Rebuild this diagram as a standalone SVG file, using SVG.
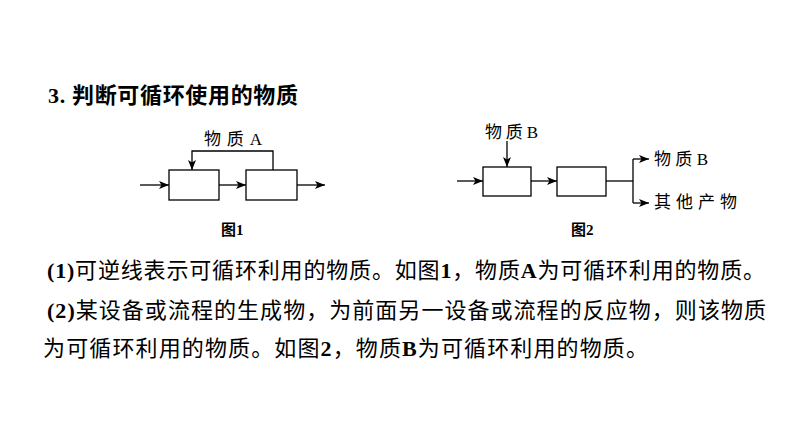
<svg xmlns="http://www.w3.org/2000/svg" width="794" height="447" viewBox="0 0 794 447">
<style>
.ln{stroke:#000;stroke-width:1.3;fill:none}
.bx{stroke:#000;stroke-width:1.3;fill:#fff}
.cjk{font-family:"Noto Sans CJK SC","Liberation Serif",sans-serif;fill:#000}
.lat{font-family:"Liberation Serif",serif;font-weight:bold}
.body{font-size:22px}
.lbl{font-size:17px}
.cap{font-size:15px;font-weight:bold}
</style>
<defs>
<marker id="ah" viewBox="0 0 10 8" refX="10" refY="4" markerWidth="10" markerHeight="8" markerUnits="userSpaceOnUse" orient="auto">
<path d="M0,0 L10,4 L0,8 L2.5,4 Z" fill="#000"/>
</marker>
</defs>
<rect width="794" height="447" fill="#fff"/>
<g id="title">
<text class="cjk" x="48" y="103" font-size="22" font-weight="bold" textLength="250" lengthAdjust="spacing"><tspan class="lat">3. </tspan>判断可循环使用的物质</text>
</g>
<g id="fig1">
<g id="f1-box1"><rect class="bx" x="169" y="170" width="50" height="30"/></g>
<g id="f1-box2"><rect class="bx" x="246" y="170" width="51" height="30"/></g>
<g id="f1-label"><text class="cjk lbl" x="204" y="145" textLength="58" lengthAdjust="spacing">物质<tspan font-family="Liberation Serif,serif">A</tspan></text></g>
<g id="f1-caption"><text class="cjk cap" x="221" y="235">图<tspan class="lat">1</tspan></text></g>
</g>
<g id="fig2">
<g id="f2-box1"><rect class="bx" x="483" y="167" width="48" height="29"/></g>
<g id="f2-box2"><rect class="bx" x="557" y="167" width="49" height="29"/></g>
<g id="f2-top"><text class="cjk lbl" x="485" y="138" textLength="53" lengthAdjust="spacing">物质<tspan font-family="Liberation Serif,serif">B</tspan></text></g>
<g id="f2-outB"><text class="cjk lbl" x="654" y="165" textLength="54" lengthAdjust="spacing">物质<tspan font-family="Liberation Serif,serif">B</tspan></text></g>
<g id="f2-other"><text class="cjk lbl" x="654" y="208" textLength="83" lengthAdjust="spacing">其他产物</text></g>
<g id="f2-caption"><text class="cjk cap" x="571" y="235">图<tspan class="lat">2</tspan></text></g>
</g>
<g id="connectors">
<line class="ln" x1="140" y1="185" x2="169" y2="185" marker-end="url(#ah)"/>
<line class="ln" x1="219" y1="185" x2="246" y2="185" marker-end="url(#ah)"/>
<line class="ln" x1="297" y1="185" x2="325" y2="185" marker-end="url(#ah)"/>
<polyline class="ln" points="273,170 273,151 192,151 192,170" marker-end="url(#ah)"/>
<line class="ln" x1="457" y1="181" x2="483" y2="181" marker-end="url(#ah)"/>
<line class="ln" x1="531" y1="181" x2="557" y2="181" marker-end="url(#ah)"/>
<line class="ln" x1="507" y1="141" x2="507" y2="167" marker-end="url(#ah)"/>
<line class="ln" x1="606" y1="181" x2="633" y2="181"/>
<line class="ln" x1="633" y1="159" x2="633" y2="203"/>
<line class="ln" x1="633" y1="159" x2="649" y2="159" marker-end="url(#ah)"/>
<line class="ln" x1="633" y1="203" x2="649" y2="203" marker-end="url(#ah)"/>
</g>
<g id="body">
<text class="cjk body" x="47" y="278" textLength="718" lengthAdjust="spacing"><tspan class="lat">(1)</tspan>可逆线表示可循环利用的物质。如图<tspan class="lat">1</tspan>，物质<tspan class="lat">A</tspan>为可循环利用的物质。</text>
<text class="cjk body" x="47" y="318" textLength="719" lengthAdjust="spacing"><tspan class="lat">(2)</tspan>某设备或流程的生成物，为前面另一设备或流程的反应物，则该物质</text>
<text class="cjk body" x="43" y="356" textLength="605" lengthAdjust="spacing">为可循环利用的物质。如图<tspan class="lat">2</tspan>，物质<tspan class="lat">B</tspan>为可循环利用的物质。</text>
</g>
</svg>
